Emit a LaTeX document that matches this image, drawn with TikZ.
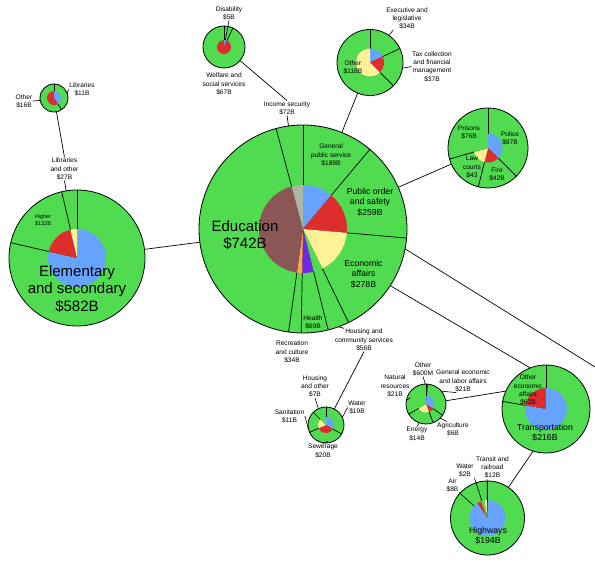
\documentclass[tikz,border=0pt]{standalone}
\usepackage{fontspec}
\setmainfont{Liberation Sans}
\definecolor{pgreen}{RGB}{80,219,80}
\definecolor{pblue}{RGB}{102,163,255}
\definecolor{pred}{RGB}{222,45,45}
\definecolor{pyellow}{RGB}{255,242,150}
\definecolor{pbrown}{RGB}{138,86,86}
\definecolor{pgrey}{RGB}{170,185,160}
\definecolor{ppurple}{RGB}{110,40,230}
\definecolor{porange}{RGB}{255,165,70}
\newcommand\pieslice[5]{\fill[#5] (#1) -- ++(#3:#2) arc[start angle=#3,end angle=#4,radius=#2] -- cycle;}
\begin{document}
\begin{tikzpicture}[x=1pt,y=1pt,
    ring/.style={circle,draw,fill=pgreen,line width=0.8pt,inner sep=0pt,outer sep=0pt},
    lbl/.style={align=center,inner sep=0.5pt,font=\fontsize{6.6}{8.3}\selectfont},
    wee/.style={align=center,inner sep=0.5pt,font=\fontsize{5.5}{6.8}\selectfont},
    mid/.style={align=center,inner sep=0.5pt,font=\fontsize{8.7}{10.6}\selectfont},
    big/.style={align=center,inner sep=0.5pt,font=\fontsize{15}{17.5}\selectfont},
    link/.style={line width=0.7pt},
    lead/.style={line width=0.6pt}]
    \path[use as bounding box,fill=white] (0,0) rectangle (595,-564);
    % rings
    \node[ring,minimum size=208pt] (main)   at (303,-229)  {};
    \node[ring,minimum size=42pt]  (welf)   at (224,-47)   {};
    \node[ring,minimum size=66pt]  (ps)     at (370,-62.5) {};
    \node[ring,minimum size=28pt]  (lib)    at (54,-98)    {};
    \node[ring,minimum size=136pt] (elem)   at (77,-258)   {};
    \node[ring,minimum size=80pt]  (porder) at (488,-148)  {};
    \node[ring,minimum size=36pt]  (hous)   at (326,-425)  {};
    \node[ring,minimum size=40pt]  (econ)   at (426,-404)  {};
    \node[ring,minimum size=88pt]  (trans)  at (546,-409)  {};
    \node[ring,minimum size=74pt]  (hwy)    at (487.5,-518) {};
    \foreach \n/\l in {main/{105,90,50,-5,-64,-76,-91,-98}, welf/{90,65}, ps/{90,25,-45.5},
        lib/{90,-57}, elem/{90,103.2,167.3}, porder/{90,-45,-104,-164}, hous/{90,-30,-156,135},
        econ/{90,86.5,-34.5,-69,-149.5}, trans/{90,170}, hwy/{90}}
      {\foreach \a in \l {\draw[line width=0.7pt] (\n.center) -- (\n.\a);}}
    % pies
    \foreach \a/\b/\c in {90/50/pblue, 50/-5/pred, -5/-64/pyellow, -64/-76/pgreen, -76/-91/ppurple,
        -91/-98/porange, -98/-255/pbrown, -255/-270/pgrey}
      {\pieslice{main.center}{44}{\a}{\b}{\c}}
    \foreach \a/\b/\c in {90/65/pblue, 65/-270/pred}
      {\pieslice{welf.center}{7}{\a}{\b}{\c}}
    \foreach \a/\b/\c in {90/25/pblue, 25/-45.5/pred, -45.5/-270/pyellow}
      {\pieslice{ps.center}{14}{\a}{\b}{\c}}
    \foreach \a/\b/\c in {90/-57/pblue, -57/-270/pred}
      {\pieslice{lib.center}{7}{\a}{\b}{\c}}
    \foreach \a/\b/\c in {90/-192.7/pblue, 167.3/103.2/pred, 103.2/90/pyellow}
      {\pieslice{elem.center}{29}{\a}{\b}{\c}}
    \foreach \a/\b/\c in {90/-45/pblue, -45/-104/pred, -104/-164/pyellow, -164/-270/pgreen}
      {\pieslice{porder.center}{14.5}{\a}{\b}{\c}}
    \foreach \a/\b/\c in {90/-30/pblue, -30/-156/pred, -156/-225/pyellow, -225/-270/pgreen}
      {\pieslice{hous.center}{8}{\a}{\b}{\c}}
    \foreach \a/\b/\c in {90/86.5/pgrey, 86.5/-34.5/pblue, -34.5/-69/pred, -69/-149.5/pyellow, -149.5/-270/pgreen}
      {\pieslice{econ.center}{8.5}{\a}{\b}{\c}}
    \foreach \a/\b/\c in {90/170/pred, 170/450/pblue}
      {\pieslice{trans.center}{21}{\a}{\b}{\c}}
    \foreach \a/\b/\c in {124/450/pblue, 92/100/pyellow, 100/112/pgreen, 112/124/pred}
      {\pieslice{hwy.center}{18}{\a}{\b}{\c}}
    % labels
    \node[lbl] (dis)  at (229,-13)     {Disability\\\$5B};
    \node[lbl] (wel)  at (224,-84)     {Welfare and\\social services\\\$67B};
    \node[lbl] (inc)  at (287,-108)    {Income security\\\$72B};
    \node[lbl] (exe)  at (407,-18.5)   {Executive and\\legislative\\\$34B};
    \node[lbl] (tax)  at (432,-66.5)   {Tax collection\\and financial\\management\\\$37B};
    \node[lbl] (pso)  at (353,-67.5)   {Other\\\$118B};
    \node[lbl] (libl) at (82,-89.5)    {Libraries\\\$11B};
    \node[lbl] (libo) at (24,-101)     {Other\\\$16B};
    \node[lbl] (lao)  at (64.5,-169)   {Libraries\\and other\\\$27B};
    \node[wee] (hig)  at (43,-220.5)   {Higher\\\$132B};
    \node[big] (ele)  at (77,-289)     {Elementary\\and secondary\\\$582B};
    \node[lbl] (gps)  at (331,-155)    {General\\public service\\\$189B};
    \node[mid] (pos)  at (370,-202)    {Public order\\and safety\\\$259B};
    \node[mid] (eco)  at (363.5,-274)  {Economic\\affairs\\\$278B};
    \node[big] (edu)  at (245,-235)    {Education\\\$742B};
    \node[lbl] (hea)  at (313,-322.5)  {Health\\\$69B};
    \node[lbl] (rec)  at (292,-352)    {Recreation\\and culture\\\$34B};
    \node[lbl] (hcs)  at (364,-340)    {Housing and\\community services\\\$56B};
    \node[lbl] (pri)  at (469,-132.5)  {Prisons\\\$76B};
    \node[lbl] (pol)  at (510,-138)    {Police\\\$97B};
    \node[lbl] (law)  at (472,-167)    {Law\\courts\\\$43};
    \node[lbl] (fir)  at (497,-174)    {Fire\\\$42B};
    \node[lbl] (hoo)  at (315,-386.5)  {Housing\\and other\\\$7B};
    \node[lbl] (wat)  at (357,-407.5)  {Water\\\$19B};
    \node[lbl] (san)  at (289.5,-416)  {Sanitation\\\$11B};
    \node[lbl] (sew)  at (323,-451)    {Sewerage\\\$20B};
    \node[lbl] (eoth) at (423,-369)    {Other\\\$600M};
    \node[lbl] (nat)  at (395,-386)    {Natural\\resources\\\$21B};
    \node[lbl] (gen)  at (463,-381)    {General economic\\and labor affairs\\\$21B};
    \node[lbl] (ene)  at (417,-434)    {Energy\\\$14B};
    \node[lbl] (agr)  at (453,-429)    {Agriculture\\\$6B};
    \node[lbl] (oea)  at (528,-390)    {Other\\economic\\affairs\\\$62B};
    \node[mid] (tra)  at (545,-432.5)  {Transportation\\\$216B};
    \node[lbl] (trn)  at (492.5,-467.5) {Transit and\\railroad\\\$12B};
    \node[lbl] (hwat) at (465,-470.5)  {Water\\\$2B};
    \node[lbl] (air)  at (452.5,-485)  {Air\\\$8B};
    \node[mid] (hwl)  at (488,-535.5)  {Highways\\\$194B};
    % links
    \coordinate (edge) at (595,-367);
    \draw[link] (elem) -- (main);
    \draw[link] (main) -- (porder);
    \draw[link] (main) -- (ps);
    \draw[link] (main.-33.5) -- (trans.111);
    \draw[link] (main.-11.5) -- (edge);
    \draw[link] (welf) -- (inc.north);
    \draw[link] (inc.south) -- (main.98);
    \draw[link] (main.-70) -- (hcs.150);
    \draw[link] (hcs.south) -- (hous);
    \draw[link] (lib) -- (lao.north);
    \draw[link] (lao.south) -- (elem);
    \draw[link] (econ) -- (trans.156);
    \draw[link] (trans.-107) -- (hwy);
    % leaders
    \draw[lead,shorten >=7pt] (dis.south) -- (welf.center);
    \draw[lead] (ps.55) -- (exe.220);
    \draw[lead] (ps.-10) -- (tax.west);
    \draw[lead] (lib.20) -- (libl.west);
    \draw[lead] (libo.east) -- (lib.190);
    \draw[lead] (hoo.south) -- (hous.115);
    \draw[lead] (wat.west) -- (hous.25);
    \draw[lead] (san.east) -- (hous.195);
    \draw[lead,shorten >=-4pt] (sew.north) -- (hous.-95);
    \draw[lead] (eoth.south) -- (econ.92);
    \draw[lead] (nat.south east) -- (econ.170);
    \draw[lead] (gen.-120) -- (econ.40);
    \draw[lead] (ene.north) -- (econ.-110);
    \draw[lead] (agr.130) -- (econ.-45);
    \draw[lead,shorten >=18pt] (trn.-115) -- (hwy.center);
    \draw[lead,shorten >=18pt] (hwat.south east) -- (hwy.center);
    \draw[lead,shorten >=18pt] (air.south east) -- (hwy.center);
\end{tikzpicture}
\end{document}
